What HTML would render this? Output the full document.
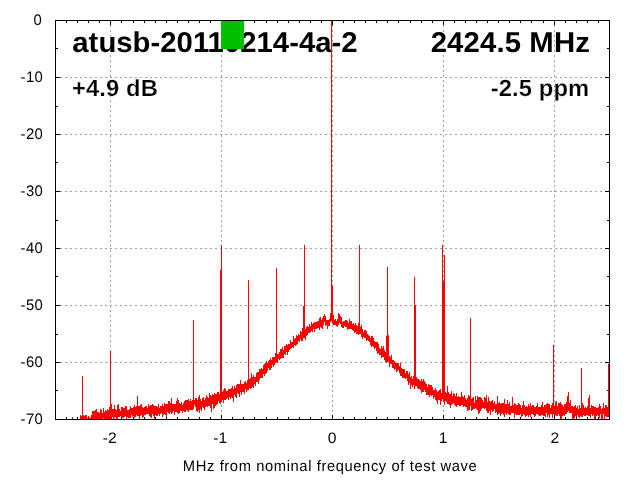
<!DOCTYPE html>
<html><head><meta charset="utf-8"><title>spectrum</title>
<style>html,body{margin:0;padding:0;background:#fff;overflow:hidden}svg{display:block}text{font-family:"Liberation Sans",sans-serif;text-rendering:geometricPrecision}</style>
</head><body>
<svg width="640" height="480" viewBox="0 0 640 480" shape-rendering="crispEdges">
<rect width="640" height="480" fill="#fff"/>
<path fill="#a0a0a0" d="M110 25h1v2h-1zM110 30h1v2h-1zM110 35h1v2h-1zM110 40h1v2h-1zM110 45h1v2h-1zM110 50h1v2h-1zM110 55h1v2h-1zM110 60h1v2h-1zM110 65h1v2h-1zM110 70h1v2h-1zM110 75h1v2h-1zM110 80h1v2h-1zM110 85h1v2h-1zM110 90h1v2h-1zM110 95h1v2h-1zM110 100h1v2h-1zM110 105h1v2h-1zM110 110h1v2h-1zM110 115h1v2h-1zM110 120h1v2h-1zM110 125h1v2h-1zM110 130h1v2h-1zM110 135h1v2h-1zM110 140h1v2h-1zM110 145h1v2h-1zM110 150h1v2h-1zM110 155h1v2h-1zM110 160h1v2h-1zM110 165h1v2h-1zM110 170h1v2h-1zM110 175h1v2h-1zM110 180h1v2h-1zM110 185h1v2h-1zM110 190h1v2h-1zM110 195h1v2h-1zM110 200h1v2h-1zM110 205h1v2h-1zM110 210h1v2h-1zM110 215h1v2h-1zM110 220h1v2h-1zM110 225h1v2h-1zM110 230h1v2h-1zM110 235h1v2h-1zM110 240h1v2h-1zM110 245h1v2h-1zM110 250h1v2h-1zM110 255h1v2h-1zM110 260h1v2h-1zM110 265h1v2h-1zM110 270h1v2h-1zM110 275h1v2h-1zM110 280h1v2h-1zM110 285h1v2h-1zM110 290h1v2h-1zM110 295h1v2h-1zM110 300h1v2h-1zM110 305h1v2h-1zM110 310h1v2h-1zM110 315h1v2h-1zM110 320h1v2h-1zM110 325h1v2h-1zM110 330h1v2h-1zM110 335h1v2h-1zM110 340h1v2h-1zM110 345h1v2h-1zM110 350h1v2h-1zM110 355h1v2h-1zM110 360h1v2h-1zM110 365h1v2h-1zM110 370h1v2h-1zM110 375h1v2h-1zM110 380h1v2h-1zM110 385h1v2h-1zM110 390h1v2h-1zM110 395h1v2h-1zM110 400h1v2h-1zM110 405h1v2h-1zM110 410h1v2h-1zM110 415h1v2h-1z"/><path fill="#a0a0a0" d="M221 25h1v2h-1zM221 30h1v2h-1zM221 35h1v2h-1zM221 40h1v2h-1zM221 45h1v2h-1zM221 50h1v2h-1zM221 55h1v2h-1zM221 60h1v2h-1zM221 65h1v2h-1zM221 70h1v2h-1zM221 75h1v2h-1zM221 80h1v2h-1zM221 85h1v2h-1zM221 90h1v2h-1zM221 95h1v2h-1zM221 100h1v2h-1zM221 105h1v2h-1zM221 110h1v2h-1zM221 115h1v2h-1zM221 120h1v2h-1zM221 125h1v2h-1zM221 130h1v2h-1zM221 135h1v2h-1zM221 140h1v2h-1zM221 145h1v2h-1zM221 150h1v2h-1zM221 155h1v2h-1zM221 160h1v2h-1zM221 165h1v2h-1zM221 170h1v2h-1zM221 175h1v2h-1zM221 180h1v2h-1zM221 185h1v2h-1zM221 190h1v2h-1zM221 195h1v2h-1zM221 200h1v2h-1zM221 205h1v2h-1zM221 210h1v2h-1zM221 215h1v2h-1zM221 220h1v2h-1zM221 225h1v2h-1zM221 230h1v2h-1zM221 235h1v2h-1zM221 240h1v2h-1zM221 245h1v2h-1zM221 250h1v2h-1zM221 255h1v2h-1zM221 260h1v2h-1zM221 265h1v2h-1zM221 270h1v2h-1zM221 275h1v2h-1zM221 280h1v2h-1zM221 285h1v2h-1zM221 290h1v2h-1zM221 295h1v2h-1zM221 300h1v2h-1zM221 305h1v2h-1zM221 310h1v2h-1zM221 315h1v2h-1zM221 320h1v2h-1zM221 325h1v2h-1zM221 330h1v2h-1zM221 335h1v2h-1zM221 340h1v2h-1zM221 345h1v2h-1zM221 350h1v2h-1zM221 355h1v2h-1zM221 360h1v2h-1zM221 365h1v2h-1zM221 370h1v2h-1zM221 375h1v2h-1zM221 380h1v2h-1zM221 385h1v2h-1zM221 390h1v2h-1zM221 395h1v2h-1zM221 400h1v2h-1zM221 405h1v2h-1zM221 410h1v2h-1zM221 415h1v2h-1z"/><path fill="#a0a0a0" d="M332 25h1v2h-1zM332 30h1v2h-1zM332 35h1v2h-1zM332 40h1v2h-1zM332 45h1v2h-1zM332 50h1v2h-1zM332 55h1v2h-1zM332 60h1v2h-1zM332 65h1v2h-1zM332 70h1v2h-1zM332 75h1v2h-1zM332 80h1v2h-1zM332 85h1v2h-1zM332 90h1v2h-1zM332 95h1v2h-1zM332 100h1v2h-1zM332 105h1v2h-1zM332 110h1v2h-1zM332 115h1v2h-1zM332 120h1v2h-1zM332 125h1v2h-1zM332 130h1v2h-1zM332 135h1v2h-1zM332 140h1v2h-1zM332 145h1v2h-1zM332 150h1v2h-1zM332 155h1v2h-1zM332 160h1v2h-1zM332 165h1v2h-1zM332 170h1v2h-1zM332 175h1v2h-1zM332 180h1v2h-1zM332 185h1v2h-1zM332 190h1v2h-1zM332 195h1v2h-1zM332 200h1v2h-1zM332 205h1v2h-1zM332 210h1v2h-1zM332 215h1v2h-1zM332 220h1v2h-1zM332 225h1v2h-1zM332 230h1v2h-1zM332 235h1v2h-1zM332 240h1v2h-1zM332 245h1v2h-1zM332 250h1v2h-1zM332 255h1v2h-1zM332 260h1v2h-1zM332 265h1v2h-1zM332 270h1v2h-1zM332 275h1v2h-1zM332 280h1v2h-1zM332 285h1v2h-1zM332 290h1v2h-1zM332 295h1v2h-1zM332 300h1v2h-1zM332 305h1v2h-1zM332 310h1v2h-1zM332 315h1v2h-1zM332 320h1v2h-1zM332 325h1v2h-1zM332 330h1v2h-1zM332 335h1v2h-1zM332 340h1v2h-1zM332 345h1v2h-1zM332 350h1v2h-1zM332 355h1v2h-1zM332 360h1v2h-1zM332 365h1v2h-1zM332 370h1v2h-1zM332 375h1v2h-1zM332 380h1v2h-1zM332 385h1v2h-1zM332 390h1v2h-1zM332 395h1v2h-1zM332 400h1v2h-1zM332 405h1v2h-1zM332 410h1v2h-1zM332 415h1v2h-1z"/><path fill="#a0a0a0" d="M443 25h1v2h-1zM443 30h1v2h-1zM443 35h1v2h-1zM443 40h1v2h-1zM443 45h1v2h-1zM443 50h1v2h-1zM443 55h1v2h-1zM443 60h1v2h-1zM443 65h1v2h-1zM443 70h1v2h-1zM443 75h1v2h-1zM443 80h1v2h-1zM443 85h1v2h-1zM443 90h1v2h-1zM443 95h1v2h-1zM443 100h1v2h-1zM443 105h1v2h-1zM443 110h1v2h-1zM443 115h1v2h-1zM443 120h1v2h-1zM443 125h1v2h-1zM443 130h1v2h-1zM443 135h1v2h-1zM443 140h1v2h-1zM443 145h1v2h-1zM443 150h1v2h-1zM443 155h1v2h-1zM443 160h1v2h-1zM443 165h1v2h-1zM443 170h1v2h-1zM443 175h1v2h-1zM443 180h1v2h-1zM443 185h1v2h-1zM443 190h1v2h-1zM443 195h1v2h-1zM443 200h1v2h-1zM443 205h1v2h-1zM443 210h1v2h-1zM443 215h1v2h-1zM443 220h1v2h-1zM443 225h1v2h-1zM443 230h1v2h-1zM443 235h1v2h-1zM443 240h1v2h-1zM443 245h1v2h-1zM443 250h1v2h-1zM443 255h1v2h-1zM443 260h1v2h-1zM443 265h1v2h-1zM443 270h1v2h-1zM443 275h1v2h-1zM443 280h1v2h-1zM443 285h1v2h-1zM443 290h1v2h-1zM443 295h1v2h-1zM443 300h1v2h-1zM443 305h1v2h-1zM443 310h1v2h-1zM443 315h1v2h-1zM443 320h1v2h-1zM443 325h1v2h-1zM443 330h1v2h-1zM443 335h1v2h-1zM443 340h1v2h-1zM443 345h1v2h-1zM443 350h1v2h-1zM443 355h1v2h-1zM443 360h1v2h-1zM443 365h1v2h-1zM443 370h1v2h-1zM443 375h1v2h-1zM443 380h1v2h-1zM443 385h1v2h-1zM443 390h1v2h-1zM443 395h1v2h-1zM443 400h1v2h-1zM443 405h1v2h-1zM443 410h1v2h-1zM443 415h1v2h-1z"/><path fill="#a0a0a0" d="M554 25h1v2h-1zM554 30h1v2h-1zM554 35h1v2h-1zM554 40h1v2h-1zM554 45h1v2h-1zM554 50h1v2h-1zM554 55h1v2h-1zM554 60h1v2h-1zM554 65h1v2h-1zM554 70h1v2h-1zM554 75h1v2h-1zM554 80h1v2h-1zM554 85h1v2h-1zM554 90h1v2h-1zM554 95h1v2h-1zM554 100h1v2h-1zM554 105h1v2h-1zM554 110h1v2h-1zM554 115h1v2h-1zM554 120h1v2h-1zM554 125h1v2h-1zM554 130h1v2h-1zM554 135h1v2h-1zM554 140h1v2h-1zM554 145h1v2h-1zM554 150h1v2h-1zM554 155h1v2h-1zM554 160h1v2h-1zM554 165h1v2h-1zM554 170h1v2h-1zM554 175h1v2h-1zM554 180h1v2h-1zM554 185h1v2h-1zM554 190h1v2h-1zM554 195h1v2h-1zM554 200h1v2h-1zM554 205h1v2h-1zM554 210h1v2h-1zM554 215h1v2h-1zM554 220h1v2h-1zM554 225h1v2h-1zM554 230h1v2h-1zM554 235h1v2h-1zM554 240h1v2h-1zM554 245h1v2h-1zM554 250h1v2h-1zM554 255h1v2h-1zM554 260h1v2h-1zM554 265h1v2h-1zM554 270h1v2h-1zM554 275h1v2h-1zM554 280h1v2h-1zM554 285h1v2h-1zM554 290h1v2h-1zM554 295h1v2h-1zM554 300h1v2h-1zM554 305h1v2h-1zM554 310h1v2h-1zM554 315h1v2h-1zM554 320h1v2h-1zM554 325h1v2h-1zM554 330h1v2h-1zM554 335h1v2h-1zM554 340h1v2h-1zM554 345h1v2h-1zM554 350h1v2h-1zM554 355h1v2h-1zM554 360h1v2h-1zM554 365h1v2h-1zM554 370h1v2h-1zM554 375h1v2h-1zM554 380h1v2h-1zM554 385h1v2h-1zM554 390h1v2h-1zM554 395h1v2h-1zM554 400h1v2h-1zM554 405h1v2h-1zM554 410h1v2h-1zM554 415h1v2h-1z"/><path fill="#a0a0a0" d="M60 77h2v1h-2zM65 77h2v1h-2zM70 77h2v1h-2zM75 77h2v1h-2zM80 77h2v1h-2zM85 77h2v1h-2zM90 77h2v1h-2zM95 77h2v1h-2zM100 77h2v1h-2zM105 77h2v1h-2zM110 77h2v1h-2zM115 77h2v1h-2zM120 77h2v1h-2zM125 77h2v1h-2zM130 77h2v1h-2zM135 77h2v1h-2zM140 77h2v1h-2zM145 77h2v1h-2zM150 77h2v1h-2zM155 77h2v1h-2zM160 77h2v1h-2zM165 77h2v1h-2zM170 77h2v1h-2zM175 77h2v1h-2zM180 77h2v1h-2zM185 77h2v1h-2zM190 77h2v1h-2zM195 77h2v1h-2zM200 77h2v1h-2zM205 77h2v1h-2zM210 77h2v1h-2zM215 77h2v1h-2zM220 77h2v1h-2zM225 77h2v1h-2zM230 77h2v1h-2zM235 77h2v1h-2zM240 77h2v1h-2zM245 77h2v1h-2zM250 77h2v1h-2zM255 77h2v1h-2zM260 77h2v1h-2zM265 77h2v1h-2zM270 77h2v1h-2zM275 77h2v1h-2zM280 77h2v1h-2zM285 77h2v1h-2zM290 77h2v1h-2zM295 77h2v1h-2zM300 77h2v1h-2zM305 77h2v1h-2zM310 77h2v1h-2zM315 77h2v1h-2zM320 77h2v1h-2zM325 77h2v1h-2zM330 77h2v1h-2zM335 77h2v1h-2zM340 77h2v1h-2zM345 77h2v1h-2zM350 77h2v1h-2zM355 77h2v1h-2zM360 77h2v1h-2zM365 77h2v1h-2zM370 77h2v1h-2zM375 77h2v1h-2zM380 77h2v1h-2zM385 77h2v1h-2zM390 77h2v1h-2zM395 77h2v1h-2zM400 77h2v1h-2zM405 77h2v1h-2zM410 77h2v1h-2zM415 77h2v1h-2zM420 77h2v1h-2zM425 77h2v1h-2zM430 77h2v1h-2zM435 77h2v1h-2zM440 77h2v1h-2zM445 77h2v1h-2zM450 77h2v1h-2zM455 77h2v1h-2zM460 77h2v1h-2zM465 77h2v1h-2zM470 77h2v1h-2zM475 77h2v1h-2zM480 77h2v1h-2zM485 77h2v1h-2zM490 77h2v1h-2zM495 77h2v1h-2zM500 77h2v1h-2zM505 77h2v1h-2zM510 77h2v1h-2zM515 77h2v1h-2zM520 77h2v1h-2zM525 77h2v1h-2zM530 77h2v1h-2zM535 77h2v1h-2zM540 77h2v1h-2zM545 77h2v1h-2zM550 77h2v1h-2zM555 77h2v1h-2zM560 77h2v1h-2zM565 77h2v1h-2zM570 77h2v1h-2zM575 77h2v1h-2zM580 77h2v1h-2zM585 77h2v1h-2zM590 77h2v1h-2zM595 77h2v1h-2zM600 77h2v1h-2zM605 77h2v1h-2z"/><path fill="#a0a0a0" d="M60 134h2v1h-2zM65 134h2v1h-2zM70 134h2v1h-2zM75 134h2v1h-2zM80 134h2v1h-2zM85 134h2v1h-2zM90 134h2v1h-2zM95 134h2v1h-2zM100 134h2v1h-2zM105 134h2v1h-2zM110 134h2v1h-2zM115 134h2v1h-2zM120 134h2v1h-2zM125 134h2v1h-2zM130 134h2v1h-2zM135 134h2v1h-2zM140 134h2v1h-2zM145 134h2v1h-2zM150 134h2v1h-2zM155 134h2v1h-2zM160 134h2v1h-2zM165 134h2v1h-2zM170 134h2v1h-2zM175 134h2v1h-2zM180 134h2v1h-2zM185 134h2v1h-2zM190 134h2v1h-2zM195 134h2v1h-2zM200 134h2v1h-2zM205 134h2v1h-2zM210 134h2v1h-2zM215 134h2v1h-2zM220 134h2v1h-2zM225 134h2v1h-2zM230 134h2v1h-2zM235 134h2v1h-2zM240 134h2v1h-2zM245 134h2v1h-2zM250 134h2v1h-2zM255 134h2v1h-2zM260 134h2v1h-2zM265 134h2v1h-2zM270 134h2v1h-2zM275 134h2v1h-2zM280 134h2v1h-2zM285 134h2v1h-2zM290 134h2v1h-2zM295 134h2v1h-2zM300 134h2v1h-2zM305 134h2v1h-2zM310 134h2v1h-2zM315 134h2v1h-2zM320 134h2v1h-2zM325 134h2v1h-2zM330 134h2v1h-2zM335 134h2v1h-2zM340 134h2v1h-2zM345 134h2v1h-2zM350 134h2v1h-2zM355 134h2v1h-2zM360 134h2v1h-2zM365 134h2v1h-2zM370 134h2v1h-2zM375 134h2v1h-2zM380 134h2v1h-2zM385 134h2v1h-2zM390 134h2v1h-2zM395 134h2v1h-2zM400 134h2v1h-2zM405 134h2v1h-2zM410 134h2v1h-2zM415 134h2v1h-2zM420 134h2v1h-2zM425 134h2v1h-2zM430 134h2v1h-2zM435 134h2v1h-2zM440 134h2v1h-2zM445 134h2v1h-2zM450 134h2v1h-2zM455 134h2v1h-2zM460 134h2v1h-2zM465 134h2v1h-2zM470 134h2v1h-2zM475 134h2v1h-2zM480 134h2v1h-2zM485 134h2v1h-2zM490 134h2v1h-2zM495 134h2v1h-2zM500 134h2v1h-2zM505 134h2v1h-2zM510 134h2v1h-2zM515 134h2v1h-2zM520 134h2v1h-2zM525 134h2v1h-2zM530 134h2v1h-2zM535 134h2v1h-2zM540 134h2v1h-2zM545 134h2v1h-2zM550 134h2v1h-2zM555 134h2v1h-2zM560 134h2v1h-2zM565 134h2v1h-2zM570 134h2v1h-2zM575 134h2v1h-2zM580 134h2v1h-2zM585 134h2v1h-2zM590 134h2v1h-2zM595 134h2v1h-2zM600 134h2v1h-2zM605 134h2v1h-2z"/><path fill="#a0a0a0" d="M60 191h2v1h-2zM65 191h2v1h-2zM70 191h2v1h-2zM75 191h2v1h-2zM80 191h2v1h-2zM85 191h2v1h-2zM90 191h2v1h-2zM95 191h2v1h-2zM100 191h2v1h-2zM105 191h2v1h-2zM110 191h2v1h-2zM115 191h2v1h-2zM120 191h2v1h-2zM125 191h2v1h-2zM130 191h2v1h-2zM135 191h2v1h-2zM140 191h2v1h-2zM145 191h2v1h-2zM150 191h2v1h-2zM155 191h2v1h-2zM160 191h2v1h-2zM165 191h2v1h-2zM170 191h2v1h-2zM175 191h2v1h-2zM180 191h2v1h-2zM185 191h2v1h-2zM190 191h2v1h-2zM195 191h2v1h-2zM200 191h2v1h-2zM205 191h2v1h-2zM210 191h2v1h-2zM215 191h2v1h-2zM220 191h2v1h-2zM225 191h2v1h-2zM230 191h2v1h-2zM235 191h2v1h-2zM240 191h2v1h-2zM245 191h2v1h-2zM250 191h2v1h-2zM255 191h2v1h-2zM260 191h2v1h-2zM265 191h2v1h-2zM270 191h2v1h-2zM275 191h2v1h-2zM280 191h2v1h-2zM285 191h2v1h-2zM290 191h2v1h-2zM295 191h2v1h-2zM300 191h2v1h-2zM305 191h2v1h-2zM310 191h2v1h-2zM315 191h2v1h-2zM320 191h2v1h-2zM325 191h2v1h-2zM330 191h2v1h-2zM335 191h2v1h-2zM340 191h2v1h-2zM345 191h2v1h-2zM350 191h2v1h-2zM355 191h2v1h-2zM360 191h2v1h-2zM365 191h2v1h-2zM370 191h2v1h-2zM375 191h2v1h-2zM380 191h2v1h-2zM385 191h2v1h-2zM390 191h2v1h-2zM395 191h2v1h-2zM400 191h2v1h-2zM405 191h2v1h-2zM410 191h2v1h-2zM415 191h2v1h-2zM420 191h2v1h-2zM425 191h2v1h-2zM430 191h2v1h-2zM435 191h2v1h-2zM440 191h2v1h-2zM445 191h2v1h-2zM450 191h2v1h-2zM455 191h2v1h-2zM460 191h2v1h-2zM465 191h2v1h-2zM470 191h2v1h-2zM475 191h2v1h-2zM480 191h2v1h-2zM485 191h2v1h-2zM490 191h2v1h-2zM495 191h2v1h-2zM500 191h2v1h-2zM505 191h2v1h-2zM510 191h2v1h-2zM515 191h2v1h-2zM520 191h2v1h-2zM525 191h2v1h-2zM530 191h2v1h-2zM535 191h2v1h-2zM540 191h2v1h-2zM545 191h2v1h-2zM550 191h2v1h-2zM555 191h2v1h-2zM560 191h2v1h-2zM565 191h2v1h-2zM570 191h2v1h-2zM575 191h2v1h-2zM580 191h2v1h-2zM585 191h2v1h-2zM590 191h2v1h-2zM595 191h2v1h-2zM600 191h2v1h-2zM605 191h2v1h-2z"/><path fill="#a0a0a0" d="M60 248h2v1h-2zM65 248h2v1h-2zM70 248h2v1h-2zM75 248h2v1h-2zM80 248h2v1h-2zM85 248h2v1h-2zM90 248h2v1h-2zM95 248h2v1h-2zM100 248h2v1h-2zM105 248h2v1h-2zM110 248h2v1h-2zM115 248h2v1h-2zM120 248h2v1h-2zM125 248h2v1h-2zM130 248h2v1h-2zM135 248h2v1h-2zM140 248h2v1h-2zM145 248h2v1h-2zM150 248h2v1h-2zM155 248h2v1h-2zM160 248h2v1h-2zM165 248h2v1h-2zM170 248h2v1h-2zM175 248h2v1h-2zM180 248h2v1h-2zM185 248h2v1h-2zM190 248h2v1h-2zM195 248h2v1h-2zM200 248h2v1h-2zM205 248h2v1h-2zM210 248h2v1h-2zM215 248h2v1h-2zM220 248h2v1h-2zM225 248h2v1h-2zM230 248h2v1h-2zM235 248h2v1h-2zM240 248h2v1h-2zM245 248h2v1h-2zM250 248h2v1h-2zM255 248h2v1h-2zM260 248h2v1h-2zM265 248h2v1h-2zM270 248h2v1h-2zM275 248h2v1h-2zM280 248h2v1h-2zM285 248h2v1h-2zM290 248h2v1h-2zM295 248h2v1h-2zM300 248h2v1h-2zM305 248h2v1h-2zM310 248h2v1h-2zM315 248h2v1h-2zM320 248h2v1h-2zM325 248h2v1h-2zM330 248h2v1h-2zM335 248h2v1h-2zM340 248h2v1h-2zM345 248h2v1h-2zM350 248h2v1h-2zM355 248h2v1h-2zM360 248h2v1h-2zM365 248h2v1h-2zM370 248h2v1h-2zM375 248h2v1h-2zM380 248h2v1h-2zM385 248h2v1h-2zM390 248h2v1h-2zM395 248h2v1h-2zM400 248h2v1h-2zM405 248h2v1h-2zM410 248h2v1h-2zM415 248h2v1h-2zM420 248h2v1h-2zM425 248h2v1h-2zM430 248h2v1h-2zM435 248h2v1h-2zM440 248h2v1h-2zM445 248h2v1h-2zM450 248h2v1h-2zM455 248h2v1h-2zM460 248h2v1h-2zM465 248h2v1h-2zM470 248h2v1h-2zM475 248h2v1h-2zM480 248h2v1h-2zM485 248h2v1h-2zM490 248h2v1h-2zM495 248h2v1h-2zM500 248h2v1h-2zM505 248h2v1h-2zM510 248h2v1h-2zM515 248h2v1h-2zM520 248h2v1h-2zM525 248h2v1h-2zM530 248h2v1h-2zM535 248h2v1h-2zM540 248h2v1h-2zM545 248h2v1h-2zM550 248h2v1h-2zM555 248h2v1h-2zM560 248h2v1h-2zM565 248h2v1h-2zM570 248h2v1h-2zM575 248h2v1h-2zM580 248h2v1h-2zM585 248h2v1h-2zM590 248h2v1h-2zM595 248h2v1h-2zM600 248h2v1h-2zM605 248h2v1h-2z"/><path fill="#a0a0a0" d="M60 305h2v1h-2zM65 305h2v1h-2zM70 305h2v1h-2zM75 305h2v1h-2zM80 305h2v1h-2zM85 305h2v1h-2zM90 305h2v1h-2zM95 305h2v1h-2zM100 305h2v1h-2zM105 305h2v1h-2zM110 305h2v1h-2zM115 305h2v1h-2zM120 305h2v1h-2zM125 305h2v1h-2zM130 305h2v1h-2zM135 305h2v1h-2zM140 305h2v1h-2zM145 305h2v1h-2zM150 305h2v1h-2zM155 305h2v1h-2zM160 305h2v1h-2zM165 305h2v1h-2zM170 305h2v1h-2zM175 305h2v1h-2zM180 305h2v1h-2zM185 305h2v1h-2zM190 305h2v1h-2zM195 305h2v1h-2zM200 305h2v1h-2zM205 305h2v1h-2zM210 305h2v1h-2zM215 305h2v1h-2zM220 305h2v1h-2zM225 305h2v1h-2zM230 305h2v1h-2zM235 305h2v1h-2zM240 305h2v1h-2zM245 305h2v1h-2zM250 305h2v1h-2zM255 305h2v1h-2zM260 305h2v1h-2zM265 305h2v1h-2zM270 305h2v1h-2zM275 305h2v1h-2zM280 305h2v1h-2zM285 305h2v1h-2zM290 305h2v1h-2zM295 305h2v1h-2zM300 305h2v1h-2zM305 305h2v1h-2zM310 305h2v1h-2zM315 305h2v1h-2zM320 305h2v1h-2zM325 305h2v1h-2zM330 305h2v1h-2zM335 305h2v1h-2zM340 305h2v1h-2zM345 305h2v1h-2zM350 305h2v1h-2zM355 305h2v1h-2zM360 305h2v1h-2zM365 305h2v1h-2zM370 305h2v1h-2zM375 305h2v1h-2zM380 305h2v1h-2zM385 305h2v1h-2zM390 305h2v1h-2zM395 305h2v1h-2zM400 305h2v1h-2zM405 305h2v1h-2zM410 305h2v1h-2zM415 305h2v1h-2zM420 305h2v1h-2zM425 305h2v1h-2zM430 305h2v1h-2zM435 305h2v1h-2zM440 305h2v1h-2zM445 305h2v1h-2zM450 305h2v1h-2zM455 305h2v1h-2zM460 305h2v1h-2zM465 305h2v1h-2zM470 305h2v1h-2zM475 305h2v1h-2zM480 305h2v1h-2zM485 305h2v1h-2zM490 305h2v1h-2zM495 305h2v1h-2zM500 305h2v1h-2zM505 305h2v1h-2zM510 305h2v1h-2zM515 305h2v1h-2zM520 305h2v1h-2zM525 305h2v1h-2zM530 305h2v1h-2zM535 305h2v1h-2zM540 305h2v1h-2zM545 305h2v1h-2zM550 305h2v1h-2zM555 305h2v1h-2zM560 305h2v1h-2zM565 305h2v1h-2zM570 305h2v1h-2zM575 305h2v1h-2zM580 305h2v1h-2zM585 305h2v1h-2zM590 305h2v1h-2zM595 305h2v1h-2zM600 305h2v1h-2zM605 305h2v1h-2z"/><path fill="#a0a0a0" d="M60 362h2v1h-2zM65 362h2v1h-2zM70 362h2v1h-2zM75 362h2v1h-2zM80 362h2v1h-2zM85 362h2v1h-2zM90 362h2v1h-2zM95 362h2v1h-2zM100 362h2v1h-2zM105 362h2v1h-2zM110 362h2v1h-2zM115 362h2v1h-2zM120 362h2v1h-2zM125 362h2v1h-2zM130 362h2v1h-2zM135 362h2v1h-2zM140 362h2v1h-2zM145 362h2v1h-2zM150 362h2v1h-2zM155 362h2v1h-2zM160 362h2v1h-2zM165 362h2v1h-2zM170 362h2v1h-2zM175 362h2v1h-2zM180 362h2v1h-2zM185 362h2v1h-2zM190 362h2v1h-2zM195 362h2v1h-2zM200 362h2v1h-2zM205 362h2v1h-2zM210 362h2v1h-2zM215 362h2v1h-2zM220 362h2v1h-2zM225 362h2v1h-2zM230 362h2v1h-2zM235 362h2v1h-2zM240 362h2v1h-2zM245 362h2v1h-2zM250 362h2v1h-2zM255 362h2v1h-2zM260 362h2v1h-2zM265 362h2v1h-2zM270 362h2v1h-2zM275 362h2v1h-2zM280 362h2v1h-2zM285 362h2v1h-2zM290 362h2v1h-2zM295 362h2v1h-2zM300 362h2v1h-2zM305 362h2v1h-2zM310 362h2v1h-2zM315 362h2v1h-2zM320 362h2v1h-2zM325 362h2v1h-2zM330 362h2v1h-2zM335 362h2v1h-2zM340 362h2v1h-2zM345 362h2v1h-2zM350 362h2v1h-2zM355 362h2v1h-2zM360 362h2v1h-2zM365 362h2v1h-2zM370 362h2v1h-2zM375 362h2v1h-2zM380 362h2v1h-2zM385 362h2v1h-2zM390 362h2v1h-2zM395 362h2v1h-2zM400 362h2v1h-2zM405 362h2v1h-2zM410 362h2v1h-2zM415 362h2v1h-2zM420 362h2v1h-2zM425 362h2v1h-2zM430 362h2v1h-2zM435 362h2v1h-2zM440 362h2v1h-2zM445 362h2v1h-2zM450 362h2v1h-2zM455 362h2v1h-2zM460 362h2v1h-2zM465 362h2v1h-2zM470 362h2v1h-2zM475 362h2v1h-2zM480 362h2v1h-2zM485 362h2v1h-2zM490 362h2v1h-2zM495 362h2v1h-2zM500 362h2v1h-2zM505 362h2v1h-2zM510 362h2v1h-2zM515 362h2v1h-2zM520 362h2v1h-2zM525 362h2v1h-2zM530 362h2v1h-2zM535 362h2v1h-2zM540 362h2v1h-2zM545 362h2v1h-2zM550 362h2v1h-2zM555 362h2v1h-2zM560 362h2v1h-2zM565 362h2v1h-2zM570 362h2v1h-2zM575 362h2v1h-2zM580 362h2v1h-2zM585 362h2v1h-2zM590 362h2v1h-2zM595 362h2v1h-2zM600 362h2v1h-2zM605 362h2v1h-2z"/>
<path fill="none" stroke="#000" stroke-width="1" d="M55.5 20.5H609.5V419.5H55.5Z"/>
<path fill="#000" d="M55 20h1v3h-1zM55 417h1v3h-1zM66 20h1v3h-1zM66 417h1v3h-1zM77 20h1v3h-1zM77 417h1v3h-1zM88 20h1v3h-1zM88 417h1v3h-1zM99 20h1v3h-1zM99 417h1v3h-1zM110 20h1v5h-1zM110 415h1v5h-1zM121 20h1v3h-1zM121 417h1v3h-1zM133 20h1v3h-1zM133 417h1v3h-1zM144 20h1v3h-1zM144 417h1v3h-1zM155 20h1v3h-1zM155 417h1v3h-1zM166 20h1v3h-1zM166 417h1v3h-1zM177 20h1v3h-1zM177 417h1v3h-1zM188 20h1v3h-1zM188 417h1v3h-1zM199 20h1v3h-1zM199 417h1v3h-1zM210 20h1v3h-1zM210 417h1v3h-1zM221 20h1v5h-1zM221 415h1v5h-1zM232 20h1v3h-1zM232 417h1v3h-1zM243 20h1v3h-1zM243 417h1v3h-1zM254 20h1v3h-1zM254 417h1v3h-1zM266 20h1v3h-1zM266 417h1v3h-1zM277 20h1v3h-1zM277 417h1v3h-1zM288 20h1v3h-1zM288 417h1v3h-1zM299 20h1v3h-1zM299 417h1v3h-1zM310 20h1v3h-1zM310 417h1v3h-1zM321 20h1v3h-1zM321 417h1v3h-1zM332 20h1v5h-1zM332 415h1v5h-1zM343 20h1v3h-1zM343 417h1v3h-1zM354 20h1v3h-1zM354 417h1v3h-1zM365 20h1v3h-1zM365 417h1v3h-1zM376 20h1v3h-1zM376 417h1v3h-1zM387 20h1v3h-1zM387 417h1v3h-1zM398 20h1v3h-1zM398 417h1v3h-1zM410 20h1v3h-1zM410 417h1v3h-1zM421 20h1v3h-1zM421 417h1v3h-1zM432 20h1v3h-1zM432 417h1v3h-1zM443 20h1v5h-1zM443 415h1v5h-1zM454 20h1v3h-1zM454 417h1v3h-1zM465 20h1v3h-1zM465 417h1v3h-1zM476 20h1v3h-1zM476 417h1v3h-1zM487 20h1v3h-1zM487 417h1v3h-1zM498 20h1v3h-1zM498 417h1v3h-1zM509 20h1v3h-1zM509 417h1v3h-1zM520 20h1v3h-1zM520 417h1v3h-1zM531 20h1v3h-1zM531 417h1v3h-1zM543 20h1v3h-1zM543 417h1v3h-1zM554 20h1v5h-1zM554 415h1v5h-1zM565 20h1v3h-1zM565 417h1v3h-1zM576 20h1v3h-1zM576 417h1v3h-1zM587 20h1v3h-1zM587 417h1v3h-1zM598 20h1v3h-1zM598 417h1v3h-1zM609 20h1v3h-1zM609 417h1v3h-1zM55 20h5v1h-5zM605 20h5v1h-5zM55 48h3v1h-3zM607 48h3v1h-3zM55 77h5v1h-5zM605 77h5v1h-5zM55 106h3v1h-3zM607 106h3v1h-3zM55 134h5v1h-5zM605 134h5v1h-5zM55 162h3v1h-3zM607 162h3v1h-3zM55 191h5v1h-5zM605 191h5v1h-5zM55 220h3v1h-3zM607 220h3v1h-3zM55 248h5v1h-5zM605 248h5v1h-5zM55 276h3v1h-3zM607 276h3v1h-3zM55 305h5v1h-5zM605 305h5v1h-5zM55 334h3v1h-3zM607 334h3v1h-3zM55 362h5v1h-5zM605 362h5v1h-5zM55 390h3v1h-3zM607 390h3v1h-3zM55 419h5v1h-5zM605 419h5v1h-5z"/>
<g font-size="15.2px" letter-spacing="0.0" fill="#000"><text transform="translate(42.10,25.00) scale(0.97,1.0)" text-anchor="end" letter-spacing="0.4" font-size="15.3px">0</text><text transform="translate(43.20,82.00) scale(0.97,1.0)" text-anchor="end" letter-spacing="0.4" font-size="15.3px">-10</text><text transform="translate(43.20,139.00) scale(0.97,1.0)" text-anchor="end" letter-spacing="0.4" font-size="15.3px">-20</text><text transform="translate(43.20,196.00) scale(0.97,1.0)" text-anchor="end" letter-spacing="0.4" font-size="15.3px">-30</text><text transform="translate(43.20,253.00) scale(0.97,1.0)" text-anchor="end" letter-spacing="0.4" font-size="15.3px">-40</text><text transform="translate(43.20,310.00) scale(0.97,1.0)" text-anchor="end" letter-spacing="0.4" font-size="15.3px">-50</text><text transform="translate(43.20,367.00) scale(0.97,1.0)" text-anchor="end" letter-spacing="0.4" font-size="15.3px">-60</text><text transform="translate(43.20,424.00) scale(0.97,1.0)" text-anchor="end" letter-spacing="0.4" font-size="15.3px">-70</text><text transform="translate(109.70,443.20) scale(1.03,1.0)" text-anchor="middle">-2</text><text transform="translate(220.30,443.20) scale(1.03,1.0)" text-anchor="middle">-1</text><text transform="translate(332.10,443.20) scale(1.03,1.0)" text-anchor="middle">0</text><text transform="translate(443.10,443.20) scale(1.03,1.0)" text-anchor="middle">1</text><text transform="translate(554.90,443.20) scale(1.03,1.0)" text-anchor="middle">2</text><text transform="translate(330.10,470.80) scale(0.97,1.0)" text-anchor="middle" letter-spacing="0.62">MHz from nominal frequency of test wave</text></g>
<g font-weight="bold" fill="#000"><text transform="translate(72.30,51.70) scale(1,0.975)" text-anchor="start" letter-spacing="0.0" font-size="29.33px">atusb-20110214-4a-2</text><text transform="translate(590.00,51.70) scale(1,0.975)" text-anchor="end" letter-spacing="0.12" font-size="29.33px">2424.5 MHz</text><text transform="translate(72.00,95.60) scale(1,0.985)" text-anchor="start" letter-spacing="0.1" font-size="23.8px" stroke="#fff" stroke-width="0.25">+4.9 dB</text><text transform="translate(589.30,95.60) scale(1,0.985)" text-anchor="end" letter-spacing="0.1" font-size="23.8px" stroke="#fff" stroke-width="0.25">-2.5 ppm</text></g>
<rect x="221" y="21" width="23" height="28" fill="#00c000"/>
<path fill="#ff0000" d="M72 417v2h1v-2zM80 415v4h1v-4zM81 416v3h1v-3zM82 376v43h1v-43zM83 415v4h1v-4zM84 416v3h1v-3zM85 415v4h1v-4zM86 415v4h1v-4zM87 418v1h1v-1zM88 416v3h1v-3zM89 417v2h1v-2zM90 418v1h1v-1zM91 415v4h1v-4zM92 411v8h1v-8zM93 411v8h1v-8zM94 411v8h1v-8zM95 410v9h1v-9zM96 409v10h1v-10zM97 412v7h1v-7zM98 412v7h1v-7zM99 413v6h1v-6zM100 409v10h1v-10zM101 410v9h1v-9zM102 413v6h1v-6zM103 408v10h1v-10zM104 412v7h1v-7zM105 410v9h1v-9zM106 411v8h1v-8zM107 409v10h1v-10zM108 410v9h1v-9zM109 407v12h1v-12zM110 351v67h1v-67zM111 404v15h1v-15zM112 409v8h1v-8zM113 409v10h1v-10zM114 405v13h1v-13zM115 409v8h1v-8zM116 410v9h1v-9zM117 405v14h1v-14zM118 404v13h1v-13zM119 409v8h1v-8zM120 411v5h1v-5zM121 407v11h1v-11zM122 407v11h1v-11zM123 408v10h1v-10zM124 408v9h1v-9zM125 406v10h1v-10zM126 406v13h1v-13zM127 410v7h1v-7zM128 410v8h1v-8zM129 409v9h1v-9zM130 406v12h1v-12zM131 408v7h1v-7zM132 408v9h1v-9zM133 407v9h1v-9zM134 405v13h1v-13zM135 407v10h1v-10zM136 406v9h1v-9zM137 396v20h1v-20zM138 406v10h1v-10zM139 406v13h1v-13zM140 405v11h1v-11zM141 404v11h1v-11zM142 407v11h1v-11zM143 408v9h1v-9zM144 407v8h1v-8zM145 406v9h1v-9zM146 406v8h1v-8zM147 408v6h1v-6zM148 404v10h1v-10zM149 406v10h1v-10zM150 405v12h1v-12zM151 405v13h1v-13zM152 404v10h1v-10zM153 405v11h1v-11zM154 406v13h1v-13zM155 406v9h1v-9zM156 406v10h1v-10zM157 407v9h1v-9zM158 404v10h1v-10zM159 408v8h1v-8zM160 406v8h1v-8zM161 406v7h1v-7zM162 404v13h1v-13zM163 406v9h1v-9zM164 403v11h1v-11zM165 404v11h1v-11zM166 404v13h1v-13zM167 404v8h1v-8zM168 401v12h1v-12zM169 401v13h1v-13zM170 403v9h1v-9zM171 398v16h1v-16zM172 404v9h1v-9zM173 404v7h1v-7zM174 404v11h1v-11zM175 404v8h1v-8zM176 401v11h1v-11zM177 398v15h1v-15zM178 400v14h1v-14zM179 403v10h1v-10zM180 404v7h1v-7zM181 402v9h1v-9zM182 405v8h1v-8zM183 403v8h1v-8zM184 401v11h1v-11zM185 400v12h1v-12zM186 400v10h1v-10zM187 400v11h1v-11zM188 399v13h1v-13zM189 401v9h1v-9zM190 399v11h1v-11zM191 401v9h1v-9zM192 400v10h1v-10zM193 320v89h1v-89zM194 400v5h1v-5zM195 398v9h1v-9zM196 398v13h1v-13zM197 400v12h1v-12zM198 397v13h1v-13zM199 395v18h1v-18zM200 399v10h1v-10zM201 401v10h1v-10zM202 398v9h1v-9zM203 397v11h1v-11zM204 400v10h1v-10zM205 398v9h1v-9zM206 395v11h1v-11zM207 397v10h1v-10zM208 398v8h1v-8zM209 393v13h1v-13zM210 395v13h1v-13zM211 396v16h1v-16zM212 394v10h1v-10zM213 395v14h1v-14zM214 393v15h1v-15zM215 394v12h1v-12zM216 394v11h1v-11zM217 392v12h1v-12zM218 392v9h1v-9zM219 394v9h1v-9zM220 270v134h1v-134zM221 245v157h1v-157zM222 392v8h1v-8zM223 390v13h1v-13zM224 388v12h1v-12zM225 389v11h1v-11zM226 391v8h1v-8zM227 391v7h1v-7zM228 389v11h1v-11zM229 389v8h1v-8zM230 389v10h1v-10zM231 388v9h1v-9zM232 386v12h1v-12zM233 389v13h1v-13zM234 386v9h1v-9zM235 388v9h1v-9zM236 385v13h1v-13zM237 384v9h1v-9zM238 384v10h1v-10zM239 384v13h1v-13zM240 380v12h1v-12zM241 384v11h1v-11zM242 384v8h1v-8zM243 384v8h1v-8zM244 382v12h1v-12zM245 381v8h1v-8zM246 383v9h1v-9zM247 380v10h1v-10zM248 280v110h1v-110zM249 379v9h1v-9zM250 378v11h1v-11zM251 373v15h1v-15zM252 377v10h1v-10zM253 375v13h1v-13zM254 377v7h1v-7zM255 377v9h1v-9zM256 373v9h1v-9zM257 372v10h1v-10zM258 372v12h1v-12zM259 369v11h1v-11zM260 369v9h1v-9zM261 368v10h1v-10zM262 369v9h1v-9zM263 365v9h1v-9zM264 364v12h1v-12zM265 363v11h1v-11zM266 361v12h1v-12zM267 363v8h1v-8zM268 361v7h1v-7zM269 360v10h1v-10zM270 358v12h1v-12zM271 360v8h1v-8zM272 357v8h1v-8zM273 357v10h1v-10zM274 357v8h1v-8zM275 353v10h1v-10zM276 268v94h1v-94zM277 354v9h1v-9zM278 354v5h1v-5zM279 352v8h1v-8zM280 349v10h1v-10zM281 349v9h1v-9zM282 347v11h1v-11zM283 350v8h1v-8zM284 346v8h1v-8zM285 346v9h1v-9zM286 344v8h1v-8zM287 345v10h1v-10zM288 344v8h1v-8zM289 344v6h1v-6zM290 340v9h1v-9zM291 342v6h1v-6zM292 342v5h1v-5zM293 336v12h1v-12zM294 339v6h1v-6zM295 338v8h1v-8zM296 335v10h1v-10zM297 336v8h1v-8zM298 334v7h1v-7zM299 335v7h1v-7zM300 331v8h1v-8zM301 332v9h1v-9zM302 328v13h1v-13zM303 306v32h1v-32zM304 245v93h1v-93zM305 329v11h1v-11zM306 327v9h1v-9zM307 326v9h1v-9zM308 327v6h1v-6zM309 324v9h1v-9zM310 326v6h1v-6zM311 322v9h1v-9zM312 324v8h1v-8zM313 323v6h1v-6zM314 322v10h1v-10zM315 322v7h1v-7zM316 322v7h1v-7zM317 321v7h1v-7zM318 321v7h1v-7zM319 318v12h1v-12zM320 317v10h1v-10zM321 320v8h1v-8zM322 318v11h1v-11zM323 316v9h1v-9zM324 314v8h1v-8zM325 316v10h1v-10zM326 320v5h1v-5zM327 320v9h1v-9zM328 320v6h1v-6zM329 319v7h1v-7zM330 313v9h1v-9zM331 21v300h1v-300zM332 285v39h1v-39zM333 315v10h1v-10zM334 320v5h1v-5zM335 319v6h1v-6zM336 321v5h1v-5zM337 319v8h1v-8zM338 313v12h1v-12zM339 314v9h1v-9zM340 316v8h1v-8zM341 317v10h1v-10zM342 322v6h1v-6zM343 321v7h1v-7zM344 321v5h1v-5zM345 320v7h1v-7zM346 320v7h1v-7zM347 321v9h1v-9zM348 323v6h1v-6zM349 319v10h1v-10zM350 321v8h1v-8zM351 321v8h1v-8zM352 324v6h1v-6zM353 323v8h1v-8zM354 325v8h1v-8zM355 323v9h1v-9zM356 325v9h1v-9zM357 326v8h1v-8zM358 323v12h1v-12zM359 245v89h1v-89zM360 327v7h1v-7zM361 325v12h1v-12zM362 329v10h1v-10zM363 332v5h1v-5zM364 330v8h1v-8zM365 330v8h1v-8zM366 331v10h1v-10zM367 334v6h1v-6zM368 335v6h1v-6zM369 336v6h1v-6zM370 338v7h1v-7zM371 336v11h1v-11zM372 336v10h1v-10zM373 338v9h1v-9zM374 341v8h1v-8zM375 342v6h1v-6zM376 342v9h1v-9zM377 342v12h1v-12zM378 344v9h1v-9zM379 348v7h1v-7zM380 349v6h1v-6zM381 346v12h1v-12zM382 348v9h1v-9zM383 346v11h1v-11zM384 350v10h1v-10zM385 352v10h1v-10zM386 336v27h1v-27zM387 267v95h1v-95zM388 335v27h1v-27zM389 356v11h1v-11zM390 357v7h1v-7zM391 355v9h1v-9zM392 360v8h1v-8zM393 360v8h1v-8zM394 361v9h1v-9zM395 363v6h1v-6zM396 363v9h1v-9zM397 363v8h1v-8zM398 363v7h1v-7zM399 366v7h1v-7zM400 363v13h1v-13zM401 368v8h1v-8zM402 369v9h1v-9zM403 369v9h1v-9zM404 369v9h1v-9zM405 373v6h1v-6zM406 371v7h1v-7zM407 371v10h1v-10zM408 374v11h1v-11zM409 372v11h1v-11zM410 377v12h1v-12zM411 376v9h1v-9zM412 379v8h1v-8zM413 376v9h1v-9zM414 277v112h1v-112zM415 305v81h1v-81zM416 377v9h1v-9zM417 379v9h1v-9zM418 379v10h1v-10zM419 380v9h1v-9zM420 381v9h1v-9zM421 379v14h1v-14zM422 381v11h1v-11zM423 379v13h1v-13zM424 381v9h1v-9zM425 383v9h1v-9zM426 384v11h1v-11zM427 387v8h1v-8zM428 384v11h1v-11zM429 385v12h1v-12zM430 385v10h1v-10zM431 385v11h1v-11zM432 387v8h1v-8zM433 390v9h1v-9zM434 390v7h1v-7zM435 388v12h1v-12zM436 390v11h1v-11zM437 392v12h1v-12zM438 391v9h1v-9zM439 390v10h1v-10zM440 389v16h1v-16zM441 393v8h1v-8zM442 245v154h1v-154zM443 281v121h1v-121zM444 255v150h1v-150zM445 392v9h1v-9zM446 393v9h1v-9zM447 386v18h1v-18zM448 392v12h1v-12zM449 394v11h1v-11zM450 394v14h1v-14zM451 391v14h1v-14zM452 396v8h1v-8zM453 393v10h1v-10zM454 394v11h1v-11zM455 396v10h1v-10zM456 393v14h1v-14zM457 397v8h1v-8zM458 396v9h1v-9zM459 397v9h1v-9zM460 397v9h1v-9zM461 392v13h1v-13zM462 396v9h1v-9zM463 397v10h1v-10zM464 395v11h1v-11zM465 398v9h1v-9zM466 400v7h1v-7zM467 398v13h1v-13zM468 395v15h1v-15zM469 396v14h1v-14zM470 318v88h1v-88zM471 399v12h1v-12zM472 398v12h1v-12zM473 397v12h1v-12zM474 403v6h1v-6zM475 396v12h1v-12zM476 400v9h1v-9zM477 396v14h1v-14zM478 397v17h1v-17zM479 397v16h1v-16zM480 397v14h1v-14zM481 398v11h1v-11zM482 400v8h1v-8zM483 402v6h1v-6zM484 397v12h1v-12zM485 398v10h1v-10zM486 395v16h1v-16zM487 402v11h1v-11zM488 397v16h1v-16zM489 401v10h1v-10zM490 402v13h1v-13zM491 401v9h1v-9zM492 400v12h1v-12zM493 403v8h1v-8zM494 401v8h1v-8zM495 404v9h1v-9zM496 404v8h1v-8zM497 396v19h1v-19zM498 403v11h1v-11zM499 402v11h1v-11zM500 404v12h1v-12zM501 403v11h1v-11zM502 403v10h1v-10zM503 403v12h1v-12zM504 399v18h1v-18zM505 404v9h1v-9zM506 404v11h1v-11zM507 400v13h1v-13zM508 404v10h1v-10zM509 402v13h1v-13zM510 406v9h1v-9zM511 406v7h1v-7zM512 397v16h1v-16zM513 405v8h1v-8zM514 403v15h1v-15zM515 404v10h1v-10zM516 405v10h1v-10zM517 405v10h1v-10zM518 403v12h1v-12zM519 404v11h1v-11zM520 405v9h1v-9zM521 408v9h1v-9zM522 405v11h1v-11zM523 401v13h1v-13zM524 405v10h1v-10zM525 407v10h1v-10zM526 406v10h1v-10zM527 407v8h1v-8zM528 404v13h1v-13zM529 406v9h1v-9zM530 403v14h1v-14zM531 406v8h1v-8zM532 405v9h1v-9zM533 405v10h1v-10zM534 407v10h1v-10zM535 407v9h1v-9zM536 406v8h1v-8zM537 403v11h1v-11zM538 407v8h1v-8zM539 407v9h1v-9zM540 407v9h1v-9zM541 405v10h1v-10zM542 402v13h1v-13zM543 407v9h1v-9zM544 405v11h1v-11zM545 405v12h1v-12zM546 404v9h1v-9zM547 403v14h1v-14zM548 404v11h1v-11zM549 404v14h1v-14zM550 408v6h1v-6zM551 405v9h1v-9zM552 403v15h1v-15zM553 345v69h1v-69zM554 406v9h1v-9zM555 402v13h1v-13zM556 401v15h1v-15zM557 406v10h1v-10zM558 403v11h1v-11zM559 403v13h1v-13zM560 402v17h1v-17zM561 404v15h1v-15zM562 405v11h1v-11zM563 407v8h1v-8zM564 404v12h1v-12zM565 404v10h1v-10zM566 402v12h1v-12zM567 396v16h1v-16zM568 392v19h1v-19zM569 403v10h1v-10zM570 400v13h1v-13zM571 406v7h1v-7zM572 406v13h1v-13zM573 407v12h1v-12zM574 406v12h1v-12zM575 405v11h1v-11zM576 408v9h1v-9zM577 406v9h1v-9zM578 409v8h1v-8zM579 405v13h1v-13zM580 408v8h1v-8zM581 368v49h1v-49zM582 403v14h1v-14zM583 405v10h1v-10zM584 408v8h1v-8zM585 407v9h1v-9zM586 408v7h1v-7zM587 406v9h1v-9zM588 398v18h1v-18zM589 395v21h1v-21zM590 408v10h1v-10zM591 405v9h1v-9zM592 406v10h1v-10zM593 406v9h1v-9zM594 407v12h1v-12zM595 407v12h1v-12zM596 408v8h1v-8zM597 408v7h1v-7zM598 407v9h1v-9zM599 404v14h1v-14zM600 406v8h1v-8zM601 409v10h1v-10zM602 408v11h1v-11zM603 403v11h1v-11zM604 408v11h1v-11zM605 405v11h1v-11zM606 405v12h1v-12zM607 407v10h1v-10zM608 364v53h1v-53z"/>
</svg>
</body></html>
